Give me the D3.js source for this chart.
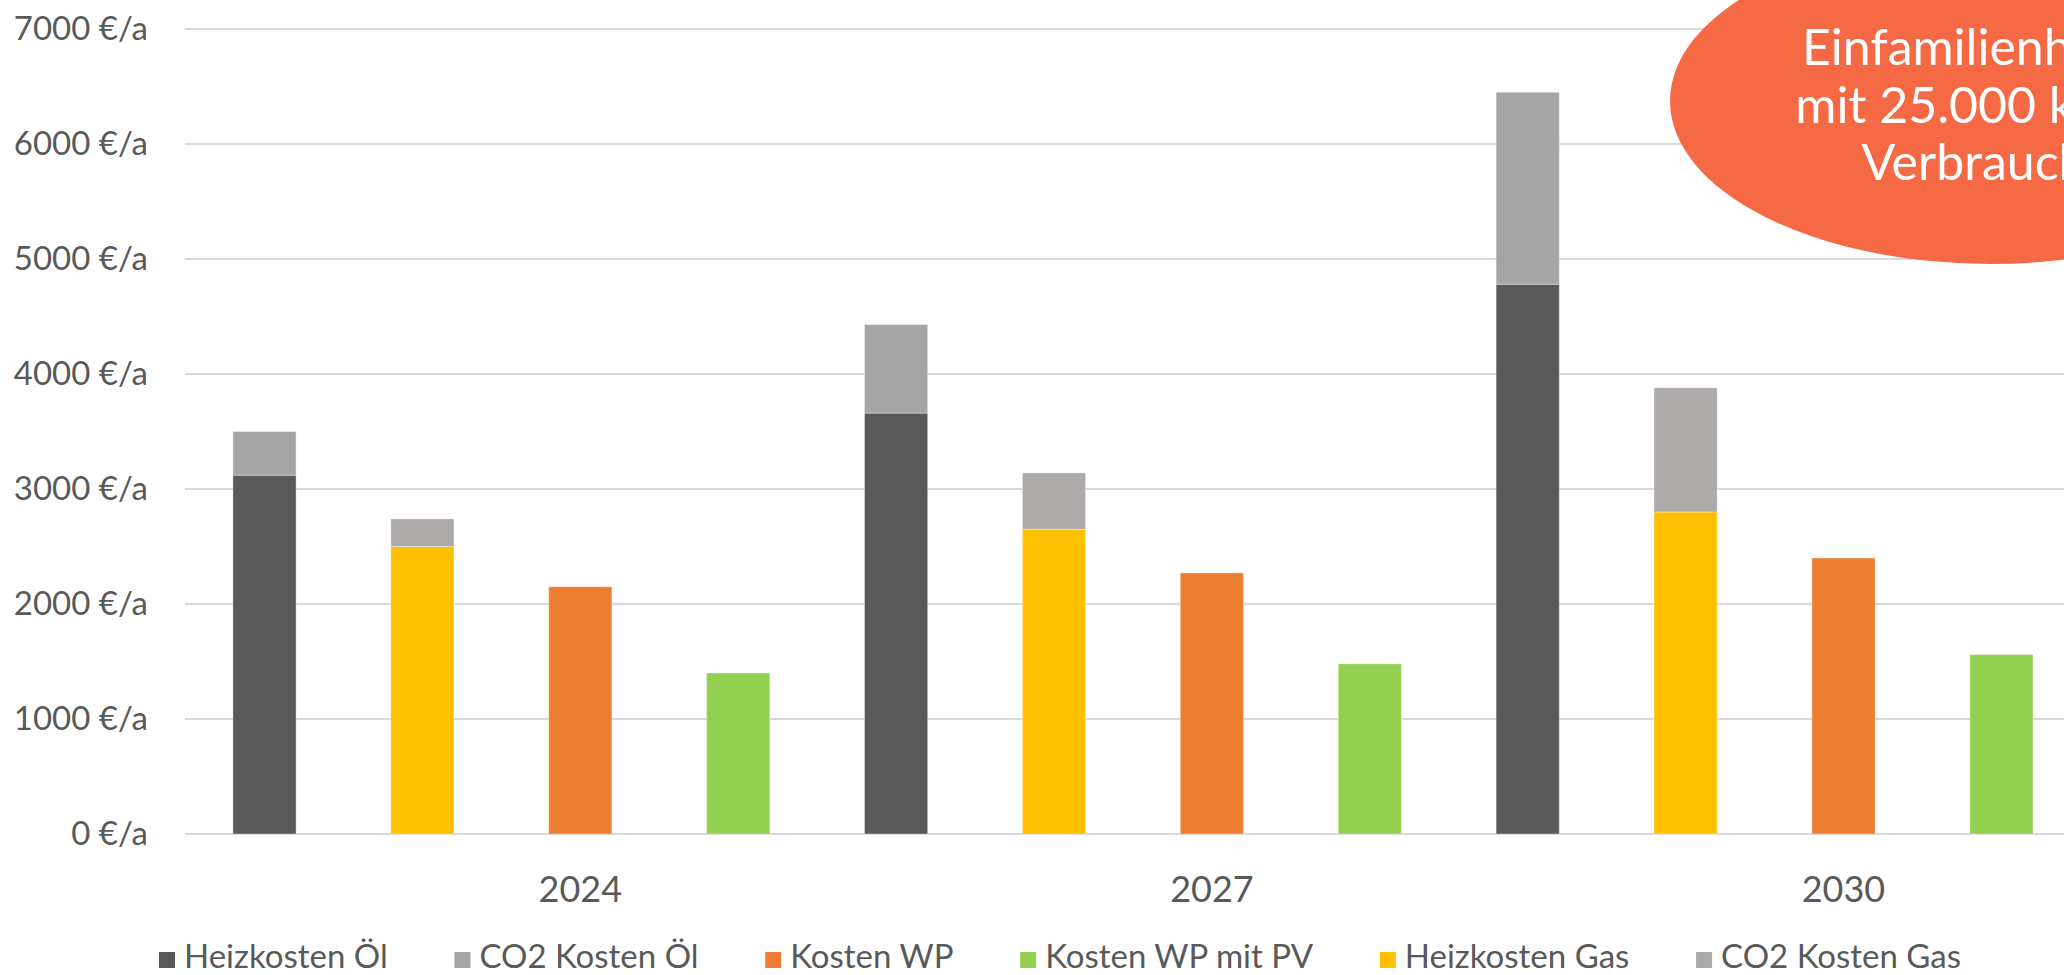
<!DOCTYPE html>
<html>
<head>
<meta charset="utf-8">
<script src="https://cdn.jsdelivr.net/npm/d3@7"></script>
<style>
    body { margin: 0; background: #fff; }
    svg { display: block; font-family: Lato, "Open Sans", sans-serif; }
</style>
</head>
<body>
<div id="chart"></div>
<script>

// Data
const years = ["2024", "2027", "2030"]
const heizkostenOel = [3120, 3660, 4780]
const co2KostenOel = [380, 770, 1670]
const kostenWP = [2150, 2270, 2400]
const kostenWPmitPV = [1400, 1480, 1560]
const heizkostenGas = [2500, 2650, 2800]
const co2KostenGas = [240, 490, 1080]
const yTicks = [0, 1000, 2000, 3000, 4000, 5000, 6000, 7000]
const slots = ["oel", "gas", "wp", "pv"]
const bubbleLines = ["Einfamilienhaus", "mit 25.000 kWh", "Verbrauch"]

// legend order = series order
const series = [
    {name: "Heizkosten Öl", values: heizkostenOel, slot: "oel", colour: "#595959"},
    {name: "CO2 Kosten Öl", values: co2KostenOel, slot: "oel", colour: "#a5a5a5"},
    {name: "Kosten WP", values: kostenWP, slot: "wp", colour: "#ed7d31"},
    {name: "Kosten WP mit PV", values: kostenWPmitPV, slot: "pv", colour: "#92d050"},
    {name: "Heizkosten Gas", values: heizkostenGas, slot: "gas", colour: "#ffc000"},
    {name: "CO2 Kosten Gas", values: co2KostenGas, slot: "gas", colour: "#aeaaaa"}
]

const width = 2064
const height = 975

let svg = d3.select("#chart").append("svg")
    .attr("width", width)
    .attr("height", height)

// Scales
let yScale = d3.scaleLinear()
    .domain([0, 7000])
    .range([834, 29])

let step = 157.9
let x0 = d3.scaleBand()
    .domain(years)
    .range([264.5, 264.5 + step * 4 * years.length])

let x1 = d3.scaleBand()
    .domain(slots)
    .range([0, x0.bandwidth()])

let barWidth = x1.bandwidth() * 0.4

// Gridlines
svg.append("g")
    .attr("id", "grid")
    .selectAll("line")
    .data(yTicks)
    .enter()
    .append("line")
    .attr("x1", 185)
    .attr("x2", width)
    .attr("y1", d => yScale(d))
    .attr("y2", d => yScale(d))
    .attr("stroke", "#d9d9d9")
    .attr("stroke-width", 2)

// Y axis labels
let yAxis = d3.axisLeft(yScale)
    .tickValues(yTicks)
    .tickFormat(d => d + " €/a")
    .tickSize(0)
    .tickPadding(0)

svg.append("g")
    .attr("transform", "translate(148,0)")
    .call(yAxis)
    .call(g => g.select(".domain").remove())
    .selectAll("text")
    .attr("font-family", "Lato, sans-serif")
    .attr("font-size", 33)
    .attr("fill", "#595959")

// Stacking inside each slot
let bars = []
years.forEach((year, i) => {
    let base = {}
    series.forEach(s => {
        let y0 = base[s.slot] || 0
        let y1 = y0 + s.values[i]
        base[s.slot] = y1
        bars.push({year: year, slot: s.slot, y0: y0, y1: y1, colour: s.colour})
    })
})

svg.append("g")
    .attr("id", "bars")
    .selectAll("rect")
    .data(bars)
    .enter()
    .append("rect")
    .attr("x", d => x0(d.year) + x1(d.slot) - barWidth / 2)
    .attr("width", barWidth)
    .attr("y", d => yScale(d.y1))
    .attr("height", d => yScale(d.y0) - yScale(d.y1))
    .attr("fill", d => d.colour)
    .attr("stroke", "#ffffff")
    .attr("stroke-opacity", 0.35)
    .attr("stroke-width", 1)

// Category labels
svg.append("g")
    .selectAll("text")
    .data(years)
    .enter()
    .append("text")
    .attr("x", d => x0(d) + x0.bandwidth() / 2)
    .attr("y", 902)
    .attr("text-anchor", "middle")
    .attr("font-size", 36)
    .attr("fill", "#595959")
    .text(d => d)

// Legend
let legend = svg.append("g").attr("id", "legend")
let items = legend.selectAll("g")
    .data(series)
    .enter()
    .append("g")

items.append("rect")
    .attr("y", 952)
    .attr("width", 16)
    .attr("height", 16)
    .attr("fill", d => d.colour)

items.append("text")
    .attr("x", 25)
    .attr("y", 968)
    .attr("font-size", 33)
    .attr("fill", "#595959")
    .text(d => d.name)

let itemWidths = []
items.each(function(){ itemWidths.push(25 + this.querySelector("text").getComputedTextLength()) })
let gap = (1961 - 159 - d3.sum(itemWidths)) / (series.length - 1)
let lx = 159
items.attr("transform", (d, i) => {
    let t = "translate(" + lx + ",0)"
    lx += itemWidths[i] + gap
    return t
})

// Orange bubble top right (cropped by the right edge like the original)
let bubble = svg.append("g").attr("id", "bubble")
bubble.append("ellipse")
    .attr("cx", 1990)
    .attr("cy", 101)
    .attr("rx", 320)
    .attr("ry", 163)
    .attr("fill", "#f56944")

bubble.selectAll("text")
    .data(bubbleLines)
    .enter()
    .append("text")
    .attr("x", 1974)
    .attr("y", (d, i) => 65 + i * 57.5)
    .attr("text-anchor", "middle")
    .attr("font-size", 50)
    .attr("fill", "#ffffff")
    .text(d => d)

</script>
</body>
</html>
